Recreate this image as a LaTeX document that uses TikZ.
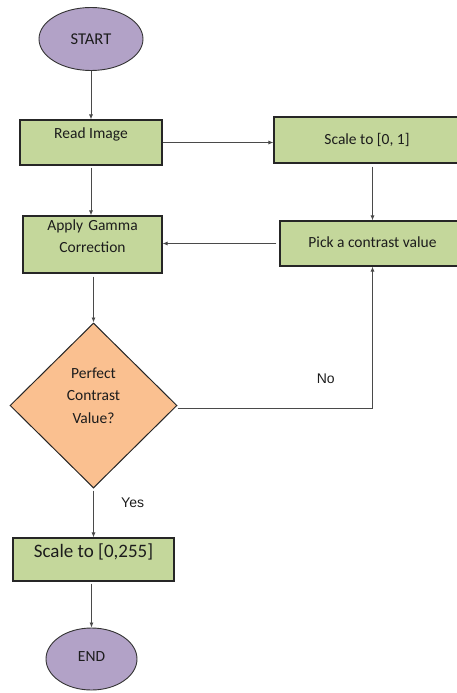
\documentclass[tikz,border=0pt]{standalone}
\usepackage{fontspec}
\setmainfont{Carlito}
\newfontfamily\arialfont{Liberation Sans}
\usetikzlibrary{shapes.geometric,arrows.meta}
\definecolor{termpurple}{HTML}{B2A2C7}
\definecolor{boxgreen}{HTML}{C4D79B}
\definecolor{askorange}{HTML}{FAC090}
\definecolor{wiregray}{HTML}{4A4A4A}
\definecolor{inkgray}{HTML}{1C1C1C}

\begin{document}
\begin{tikzpicture}[x=1pt,y=-1pt,
  term/.style={ellipse,draw=black!80,line width=0.9pt,fill=termpurple,text=inkgray,inner sep=0pt},
  stepbox/.style={rectangle,draw=black!85,line width=1.1pt,fill=boxgreen,text=inkgray,inner sep=0pt,font=\fontsize{15.5}{22.5}\selectfont},
  ask/.style={diamond,draw=black!85,line width=1pt,fill=askorange,text=inkgray,inner sep=0pt,font=\fontsize{15.5}{22.5}\selectfont},
  flow/.style={draw=wiregray,line width=0.8pt,-{Latex[length=5pt,width=4pt]}},
  tag/.style={text=inkgray,font=\arialfont\fontsize{14}{16}\selectfont}]
\clip (0,0) rectangle (457,693);
\path (91,39) node[term,minimum width=104pt,minimum height=63pt,font=\fontsize{16.5}{20}\selectfont] (start) {START};
\path (91,142.5) node[stepbox,minimum width=142pt,minimum height=45pt,text height=9pt,text depth=17pt] (read) {Read Image};
\draw[flow] (start) -- (read);
% right column
\path (367,140) node[stepbox,minimum width=186pt,minimum height=46pt,text height=12pt,text depth=4pt] (scale01) {Scale to [0, 1]};
\draw[flow] (read.east) -- (read.east -| scale01.west);
\path (372.5,243.5) node[stepbox,minimum width=185pt,minimum height=45pt,text height=12pt,text depth=4pt] (pick) {Pick a contrast value};
\draw[flow,shorten <=3pt] (pick.north |- scale01.south) -- (pick.north);
% back to the left
\path (92.5,244.5) node[stepbox,minimum width=139pt,minimum height=57pt,text width=120pt,align=center,text height=10pt,text depth=39pt] (apply) {Apply Gamma\\Correction};
\draw[flow,shorten <=2pt] (read.south) -- (read.south |- apply.north);
\draw[flow,shorten <=3pt] (pick.west) -- (pick.west -| apply.east);
\path (93.5,405.5) node[ask,minimum width=167pt,minimum height=165pt,text width=70pt,align=center,text height=10pt,text depth=65pt] (perfect) {Perfect\\Contrast\\Value?};
\draw[flow,shorten <=3pt] (perfect.north |- apply.south) -- (perfect.north);
\draw[flow] ([yshift=-3pt]perfect.east) -| node[tag,pos=0.38,above=21pt] (no) {No} (pick.south);
\path (93.5,559.5) node[stepbox,minimum width=161pt,minimum height=43pt,text height=13pt,text depth=18pt,font=\fontsize{19}{23}\selectfont] (scale255) {Scale to [0,255]};
\draw[flow,shorten <=2pt] (perfect.south) -- node[tag,pos=0.3,right=24pt] (yes) {Yes} (perfect.south |- scale255.north);
\path (91.5,659) node[term,minimum width=91pt,minimum height=62pt,text height=12pt,text depth=8pt,font=\fontsize{15.5}{19}\selectfont] (stop) {END};
\draw[flow,shorten <=2pt] (stop.north |- scale255.south) -- (stop.north);
\end{tikzpicture}
\end{document}
